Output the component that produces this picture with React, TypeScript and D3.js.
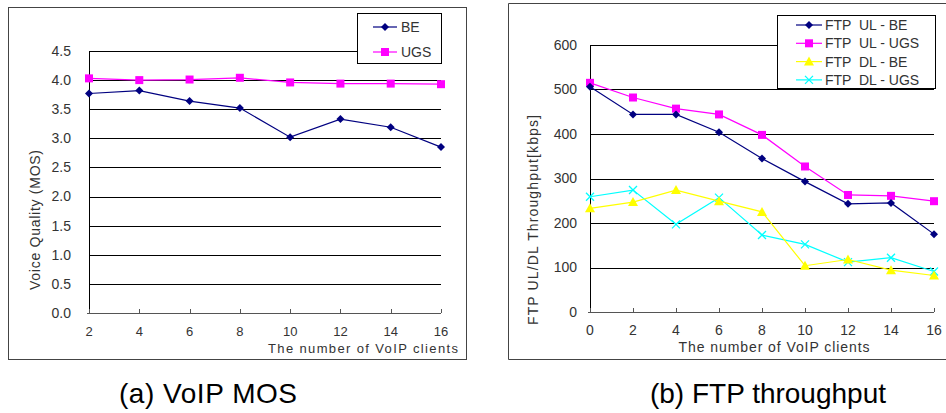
import React from "react";
import * as d3 from "d3";

// left chart: voice quality
const mosClients = [2, 4, 6, 8, 10, 12, 14, 16];
const mosBE = [3.77, 3.82, 3.64, 3.52, 3.02, 3.33, 3.19, 2.85];
const mosUGS = [4.03, 4.0, 4.01, 4.04, 3.96, 3.94, 3.94, 3.93];
const mosTicks = [0, 0.5, 1, 1.5, 2, 2.5, 3, 3.5, 4, 4.5];

// right chart: ftp throughput
const ftpClients = [0, 2, 4, 6, 8, 10, 12, 14, 16];
const ulBE = [506, 444, 444, 404, 345, 293, 243, 245, 175];
const ulUGS = [515, 482, 457, 444, 398, 327, 263, 261, 249];
const dlBE = [233, 247, 274, 249, 225, 104, 118, 94, 82];
const dlUGS = [259, 274, 197, 257, 173, 152, 112, 122, 91];
const ftpTicks = [0, 100, 200, 300, 400, 500, 600];

const FONT = "'Liberation Sans', Arial, sans-serif";

type Shape = "diamond" | "square" | "triangle" | "cross";

function Marker({ x, y, shape, color }: { x: number; y: number; shape: Shape; color: string }) {
  if (shape === "diamond") {
    return <path d={`M${x},${y - 4}L${x + 4},${y}L${x},${y + 4}L${x - 4},${y}Z`} fill={color} />;
  }
  if (shape === "square") {
    return <rect x={x - 4} y={y - 4} width={8} height={8} fill={color} />;
  }
  if (shape === "triangle") {
    return <path d={`M${x},${y - 5}L${x + 5},${y + 4}L${x - 5},${y + 4}Z`} fill={color} />;
  }
  return (
    <path
      d={`M${x - 4},${y - 4}L${x + 4},${y + 4}M${x - 4},${y + 4}L${x + 4},${y - 4}`}
      stroke={color}
      strokeWidth={1.3}
    />
  );
}

function Series({ xs, ys, x, y, color, shape }: any) {
  const line = d3
    .line<number>()
    .x((d, i) => x(xs[i]))
    .y((d) => y(d));
  return (
    <g>
      <path d={line(ys) || ""} fill="none" stroke={color} strokeWidth={1.2} />
      {ys.map((v: number, i: number) => (
        <Marker key={i} x={x(xs[i])} y={y(v)} shape={shape} color={color} />
      ))}
    </g>
  );
}

function MosChart() {
  const x = d3.scaleLinear().domain([2, 16]).range([89, 441]);
  const y = d3.scaleLinear().domain([0, 4.5]).range([313, 51]);
  return (
    <g fontFamily={FONT}>
      <rect x={8.5} y={7.5} width={458} height={352} fill="white" stroke="#444" strokeWidth={1} />
      {mosTicks.slice(1).map((t) => (
        <line key={t} x1={89} x2={441} y1={Math.round(y(t)) + 0.5} y2={Math.round(y(t)) + 0.5} stroke="#000" />
      ))}
      <line x1={89.5} x2={89.5} y1={y(4.5)} y2={313} stroke="#000" />
      <line x1={87} x2={441} y1={313.5} y2={313.5} stroke="#555" strokeWidth={1.2} />
      {mosClients.map((c) => (
        <line key={c} x1={Math.round(x(c)) + 0.5} x2={Math.round(x(c)) + 0.5} y1={309} y2={313} stroke="#555" />
      ))}
      {mosTicks.map((t) => (
        <text key={t} x={71} y={y(t)} dy="0.35em" textAnchor="end" fontSize={14} fill="#333">
          {t.toFixed(1)}
        </text>
      ))}
      {mosClients.map((c) => (
        <text key={c} x={x(c)} y={331} dy="0.35em" textAnchor="middle" fontSize={13} fill="#333">
          {c}
        </text>
      ))}
      <text x={458} y={348} dy="0.35em" textAnchor="end" fontSize={13} fill="#333" textLength={190}>
        The number of VoIP clients
      </text>
      <text
        transform="translate(35,220) rotate(-90)"
        textAnchor="middle"
        dy="0.35em"
        fontSize={14}
        fill="#333"
        textLength={140}
      >
        Voice Quality (MOS)
      </text>
      <Series xs={mosClients} ys={mosUGS} x={x} y={y} color="#ff00ff" shape="square" />
      <Series xs={mosClients} ys={mosBE} x={x} y={y} color="#000080" shape="diamond" />
      {/* legend */}
      <rect x={357.5} y={13.5} width={84} height={50} fill="white" stroke="#000" />
      <line x1={373} x2={397} y1={27} y2={27} stroke="#000080" strokeWidth={1.2} />
      <Marker x={385} y={27} shape="diamond" color="#000080" />
      <text x={401} y={27} dy="0.35em" fontSize={14} fill="#333">BE</text>
      <line x1={373} x2={397} y1={52} y2={52} stroke="#ff00ff" strokeWidth={1.2} />
      <Marker x={385} y={52} shape="square" color="#ff00ff" />
      <text x={401} y={52} dy="0.35em" fontSize={14} fill="#333">UGS</text>
      <text x={208} y={393} dy="0.35em" textAnchor="middle" fontSize={28} fill="#000" textLength={178}>
        (a) VoIP MOS
      </text>
    </g>
  );
}

const ftpLegend = [
  { name: "FTP  UL - BE", color: "#000080", shape: "diamond" as Shape },
  { name: "FTP  UL - UGS", color: "#ff00ff", shape: "square" as Shape },
  { name: "FTP  DL - BE", color: "#ffff00", shape: "triangle" as Shape },
  { name: "FTP  DL - UGS", color: "#00ffff", shape: "cross" as Shape },
];

function FtpChart() {
  const x = d3.scaleLinear().domain([0, 16]).range([590, 934]);
  const y = d3.scaleLinear().domain([0, 600]).range([312, 45]);
  const series = [ulBE, ulUGS, dlBE, dlUGS];
  return (
    <g fontFamily={FONT}>
      <path d="M946,3.5H508.5V359.5H946" fill="white" stroke="#444" />
      {ftpTicks.slice(1).map((t) => (
        <line key={t} x1={590} x2={934} y1={Math.round(y(t)) + 0.5} y2={Math.round(y(t)) + 0.5} stroke="#000" />
      ))}
      <line x1={590.5} x2={590.5} y1={y(600)} y2={312} stroke="#000" />
      <line x1={588} x2={934} y1={312.5} y2={312.5} stroke="#555" strokeWidth={1.2} />
      {ftpClients.map((c) => (
        <line key={c} x1={Math.round(x(c)) + 0.5} x2={Math.round(x(c)) + 0.5} y1={308} y2={312} stroke="#555" />
      ))}
      {ftpTicks.map((t) => (
        <text key={t} x={577} y={y(t)} dy="0.35em" textAnchor="end" fontSize={14} fill="#333">
          {t}
        </text>
      ))}
      {ftpClients.map((c) => (
        <text key={c} x={x(c)} y={330} dy="0.35em" textAnchor="middle" fontSize={14} fill="#333">
          {c}
        </text>
      ))}
      <text x={774} y={347} dy="0.35em" textAnchor="middle" fontSize={14} fill="#333" textLength={191}>
        The number of VoIP clients
      </text>
      <text
        transform="translate(533,220) rotate(-90)"
        textAnchor="middle"
        dy="0.35em"
        fontSize={14}
        fill="#333"
        textLength={210}
      >
        FTP UL/DL Throughput[kbps]
      </text>
      {[3, 2, 1, 0].map((k) => (
        <Series
          key={k}
          xs={ftpClients}
          ys={series[k]}
          x={x}
          y={y}
          color={ftpLegend[k].color}
          shape={ftpLegend[k].shape}
        />
      ))}
      {/* legend */}
      <rect x={777.5} y={15.5} width={158} height={73} fill="white" stroke="#000" />
      {ftpLegend.map((s, i) => {
        const ly = 25 + i * 18.3;
        return (
          <g key={s.name}>
            <line x1={796} x2={822} y1={ly} y2={ly} stroke={s.color} strokeWidth={1.2} />
            <Marker x={809} y={ly} shape={s.shape} color={s.color} />
            <text x={825} y={ly} dy="0.35em" fontSize={14} fill="#333" xmlSpace="preserve">
              {s.name}
            </text>
          </g>
        );
      })}
      <text x={768} y={393} dy="0.35em" textAnchor="middle" fontSize={28} fill="#000">
        (b) FTP throughput
      </text>
    </g>
  );
}

export default function App() {
  return (
    <svg
      width={946}
      height={413}
      style={{ position: "absolute", left: 0, top: 0, background: "white" }}
    >
      <rect width={946} height={413} fill="white" />
      <MosChart />
      <FtpChart />
    </svg>
  );
}
